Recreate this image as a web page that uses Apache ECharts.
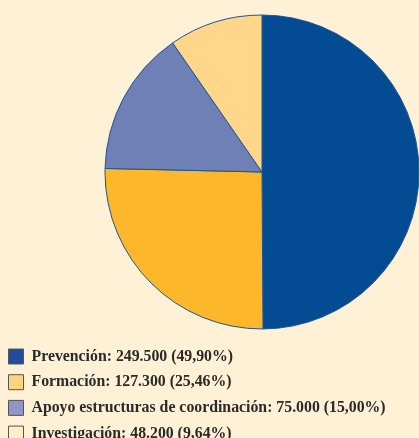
<!DOCTYPE html>
<html>
<head>
<meta charset="utf-8">
<script src="https://cdn.jsdelivr.net/npm/echarts@6/dist/echarts.min.js"></script>
<style>
    html, body {
        margin: 0;
        padding: 0;
        background: #FEF1D6;
    }
    #picture {
        width: 419px;
        height: 438px;
    }
</style>
</head>
<body>
<div id="picture"></div>
<script>
    // datos
    var names = ['Prevención', 'Formación', 'Apoyo estructuras de coordinación', 'Investigación'];
    var values = [249500, 127300, 75000, 48200];
    var percents = ['49,90', '25,46', '15,00', '9,64'];
    var colors = ['#034C94', '#FCB72B', '#6E80B5', '#FFD68A'];
    var legendColors = ['#234C9C', '#FFD27D', '#8D98C8', '#FFEDC8'];

    var fmt = function(v) {
        return String(v).replace(/\B(?=(\d{3})+(?!\d))/g, '.');
    };

    var myChart = echarts.init(document.getElementById('picture'));
    var pieData = [];
    var legendData = [];
    for (var i = 0; i < names.length; i++) {
        pieData.push({
            name: names[i],
            value: values[i],
            itemStyle: { color: colors[i] }
        });
        legendData.push({
            name: names[i],
            icon: 'rect',
            itemStyle: { color: legendColors[i], borderColor: '#555', borderWidth: 1 }
        });
    }

    var option = {
        backgroundColor: '#FEF1D6',
        animation: false,
        legend: {
            orient: 'vertical',
            left: 8,
            top: 348.5,
            padding: 0,
            height: 200,
            itemWidth: 15,
            itemHeight: 15,
            itemGap: 9.7,
            data: legendData,
            textStyle: {
                fontFamily: 'Liberation Serif',
                fontWeight: 'bold',
                fontSize: 15.8,
                color: '#2a2a2a',
                padding: [0, 0, 0, 3]
            },
            formatter: function(name) {
                var i = names.indexOf(name);
                return name + ': ' + fmt(values[i]) + ' (' + percents[i] + '%)';
            }
        },
        series: [{
            type: 'pie',
            center: [262, 172],
            radius: 157,
            startAngle: 90,
            clockwise: true,
            label: { show: false },
            labelLine: { show: false },
            silent: true,
            itemStyle: {
                borderColor: '#1F5496',
                borderWidth: 1
            },
            data: pieData
        }]
    };
    myChart.setOption(option);
</script>
</body>
</html>
